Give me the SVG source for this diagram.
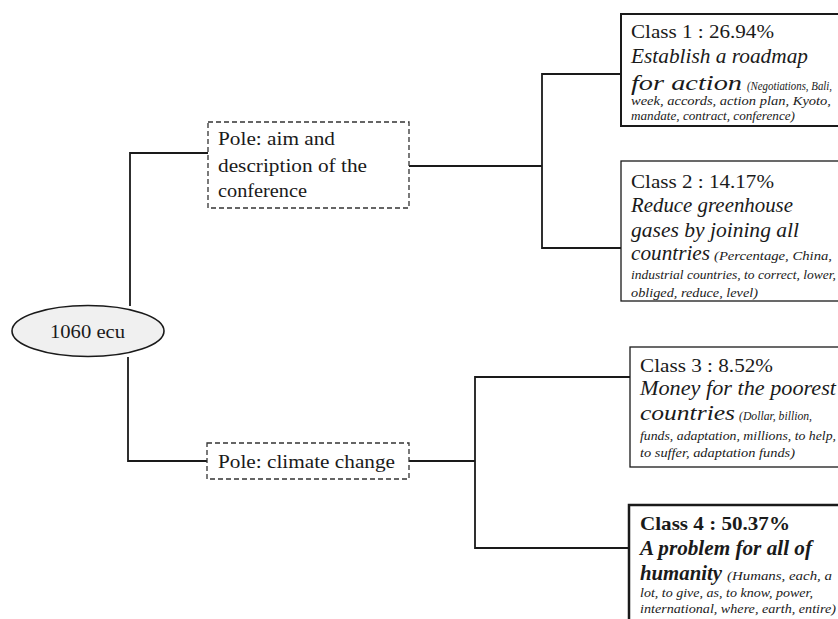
<svg xmlns="http://www.w3.org/2000/svg" width="838" height="619" viewBox="0 0 838 619">
<style>
.t{font-family:"Liberation Serif","Times New Roman",serif;fill:#1a1a1a}
.h{font-size:19.5px}
.p{font-size:19px}
.i{font-style:italic;font-size:20px}
.big{font-style:italic;font-size:22px}
.s{font-style:italic;font-size:12.5px}
.b{font-weight:bold}
.conn{fill:none;stroke:#1a1a1a;stroke-width:1.8}
.pole{fill:#fff;stroke:#333;stroke-width:1.3;stroke-dasharray:5 3}
.cls{fill:#fff;stroke:#1a1a1a}
</style>
<rect width="838" height="619" fill="#fff"/>
<g id="connectors">
<path class="conn" d="M130,306 L130,153 L208,153"/>
<path class="conn" d="M128,357 L128,461 L207,461"/>
<path class="conn" d="M409,166 L542,166"/>
<path class="conn" d="M621,74 L542,74 L542,248 L621,248"/>
<path class="conn" d="M409,461 L475,461"/>
<path class="conn" d="M630,377 L475,377 L475,548 L629,548"/>
</g>
<g id="root">
<ellipse cx="88" cy="331" rx="76" ry="25.5" fill="#f0f0f0" stroke="#1a1a1a" stroke-width="1.6"/>
<text class="t p" x="50" y="338" textLength="75" lengthAdjust="spacingAndGlyphs">1060 ecu</text>
</g>
<g id="pole1">
<rect class="pole" x="208" y="122" width="201" height="86"/>
<text class="t p" x="218" y="145" textLength="117" lengthAdjust="spacingAndGlyphs">Pole: aim and</text>
<text class="t p" x="218" y="172" textLength="149" lengthAdjust="spacingAndGlyphs">description of the</text>
<text class="t p" x="218" y="197" textLength="89" lengthAdjust="spacingAndGlyphs">conference</text>
</g>
<g id="pole2">
<rect class="pole" x="207" y="443" width="202" height="36"/>
<text class="t p" x="218" y="468" textLength="177" lengthAdjust="spacingAndGlyphs">Pole: climate change</text>
</g>
<g id="class1">
<rect class="cls" x="621" y="14" width="240" height="112" stroke-width="2"/>
<text class="t h" x="631" y="38" textLength="143" lengthAdjust="spacingAndGlyphs">Class 1 : 26.94%</text>
<text class="t i" x="631" y="63" textLength="177" lengthAdjust="spacingAndGlyphs">Establish a roadmap</text>
<text class="t big" x="631" y="90" textLength="111" lengthAdjust="spacingAndGlyphs">for action</text>
<text class="t s" x="747" y="90" textLength="85" lengthAdjust="spacingAndGlyphs">(Negotiations, Bali,</text>
<text class="t s" x="631" y="105" textLength="200" lengthAdjust="spacingAndGlyphs">week, accords, action plan, Kyoto,</text>
<text class="t s" x="631" y="120" textLength="164" lengthAdjust="spacingAndGlyphs">mandate, contract,  conference)</text>
</g>
<g id="class2">
<rect class="cls" x="621" y="161" width="240" height="140" stroke-width="1.3"/>
<text class="t h" x="631" y="188" textLength="143" lengthAdjust="spacingAndGlyphs">Class 2 : 14.17%</text>
<text class="t i" x="631" y="212" textLength="162" lengthAdjust="spacingAndGlyphs">Reduce greenhouse</text>
<text class="t i" x="631" y="237" textLength="168" lengthAdjust="spacingAndGlyphs">gases by joining all</text>
<text class="t big" x="631" y="260" textLength="79" lengthAdjust="spacingAndGlyphs">countries</text>
<text class="t s" x="714" y="260" textLength="118" lengthAdjust="spacingAndGlyphs">(Percentage, China,</text>
<text class="t s" x="631" y="279" textLength="205" lengthAdjust="spacingAndGlyphs">industrial countries, to correct, lower,</text>
<text class="t s" x="631" y="297" textLength="127" lengthAdjust="spacingAndGlyphs">obliged, reduce, level)</text>
</g>
<g id="class3">
<rect class="cls" x="630" y="347" width="240" height="120" stroke-width="1.3"/>
<text class="t h" x="640" y="372" textLength="133" lengthAdjust="spacingAndGlyphs">Class 3 : 8.52%</text>
<text class="t i" x="640" y="395" textLength="196" lengthAdjust="spacingAndGlyphs">Money for the poorest</text>
<text class="t big" x="640" y="420" textLength="95" lengthAdjust="spacingAndGlyphs">countries</text>
<text class="t s" x="739" y="420" textLength="73" lengthAdjust="spacingAndGlyphs">(Dollar, billion,</text>
<text class="t s" x="640" y="440" textLength="196" lengthAdjust="spacingAndGlyphs">funds, adaptation, millions, to help,</text>
<text class="t s" x="640" y="457" textLength="155" lengthAdjust="spacingAndGlyphs">to suffer, adaptation funds)</text>
</g>
<g id="class4">
<rect class="cls" x="629" y="505" width="240" height="130" stroke-width="2.5"/>
<text class="t h b" x="640" y="530" textLength="150" lengthAdjust="spacingAndGlyphs">Class 4 : 50.37%</text>
<text class="t i b" x="640" y="555" textLength="172" lengthAdjust="spacingAndGlyphs">A problem for all of</text>
<text class="t big b" x="640" y="580" textLength="82" lengthAdjust="spacingAndGlyphs">humanity</text>
<text class="t s" x="727" y="580" textLength="105" lengthAdjust="spacingAndGlyphs">(Humans, each, a</text>
<text class="t s" x="640" y="597" textLength="173" lengthAdjust="spacingAndGlyphs">lot, to give, as, to know, power,</text>
<text class="t s" x="640" y="613" textLength="196" lengthAdjust="spacingAndGlyphs">international, where, earth, entire)</text>
</g>
</svg>
